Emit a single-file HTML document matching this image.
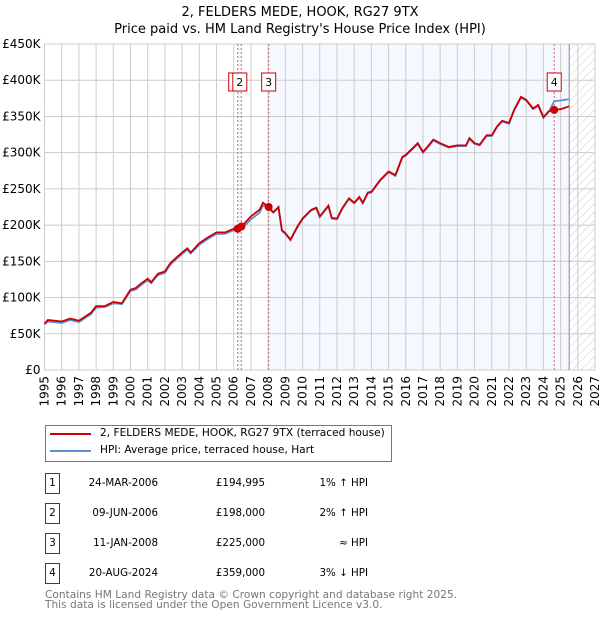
<!DOCTYPE html>
<html><head><meta charset="utf-8"><style>
body{margin:0;background:#fff;font-family:"DejaVu Sans","Liberation Sans",sans-serif;}
#wrap{position:relative;width:600px;height:620px;overflow:hidden}
.t{position:absolute;font-size:12px;color:#000;white-space:nowrap}
</style></head><body><div id="wrap">
<svg id="chart" width="600" height="420" style="position:absolute;left:0;top:0" font-family="DejaVu Sans, Liberation Sans, sans-serif">
<defs><pattern id="hatch" width="6" height="6" patternUnits="userSpaceOnUse" patternTransform="rotate(45)"><line x1="0" y1="0" x2="0" y2="6" stroke="#ccc" stroke-width="1"/></pattern></defs>
<text x="300" y="16" text-anchor="middle" font-size="13">2, FELDERS MEDE, HOOK, RG27 9TX</text>
<text x="300" y="33" text-anchor="middle" font-size="13">Price paid vs. HM Land Registry's House Price Index (HPI)</text>
<g id="g"></g>
</svg>
<div style="position:absolute;left:45px;top:425px;width:345px;height:35px;border:1px solid #777"></div>
<div style="position:absolute;left:50px;top:433px;width:41px;height:2px;background:#cc0000"></div>
<div style="position:absolute;left:50px;top:450px;width:41px;height:2px;background:#5b8fd6"></div>
<div class="t" style="left:100px;top:427px;font-size:10.6px">2, FELDERS MEDE, HOOK, RG27 9TX (terraced house)</div>
<div class="t" style="left:100px;top:444px;font-size:10.6px">HPI: Average price, terraced house, Hart</div>
<div id="tbl"></div>
<div class="t" style="left:45px;top:590px;color:#777;line-height:10px;font-size:10.6px">Contains HM Land Registry data © Crown copyright and database right 2025.<br>This data is licensed under the Open Government Licence v3.0.</div>
</div>
<script>
const years=[1995,1995.2,1996,1996.5,1997,1997.7,1998,1998.5,1999,1999.5,2000,2000.3,2000.6,2001,2001.2,2001.6,2002,2002.3,2002.7,2003,2003.3,2003.5,2004,2004.5,2005,2005.5,2006,2006.45,2007,2007.5,2007.7,2008,2008.3,2008.6,2008.8,2009,2009.3,2009.7,2010,2010.5,2010.8,2011,2011.5,2011.7,2012,2012.3,2012.7,2013,2013.3,2013.5,2013.8,2014,2014.5,2015,2015.4,2015.8,2016,2016.4,2016.7,2017,2017.3,2017.6,2018,2018.5,2019,2019.5,2019.7,2020,2020.3,2020.7,2021,2021.3,2021.6,2022,2022.3,2022.7,2023,2023.4,2023.7,2024,2024.3,2024.63,2025,2025.5];
const priceK=[64,69,67,71,68,79,88,88,94,92,111,113,119,126,121,133,136,147,156,162,168,162,175,183,190,190,195,198,212,221,231,225,218,225,193,189,180,198,209,221,224,212,227,210,209,223,237,231,239,231,245,246,262,274,269,294,297,306,313,301,309,318,313,308,310,310,320,313,311,324,324,336,344,341,359,377,373,361,366,349,357,359,360,364];
const hpiK=[63,67,65,69,66,77,86,87,92,91,109,111,117,124,120,131,134,145,154,160,166,161,173,181,188,188,193,194,208,217,227,224,217,224,192,188,179,197,208,220,223,211,226,209,208,222,236,230,238,230,244,245,261,273,268,293,296,305,312,300,308,317,312,307,309,309,319,312,310,323,323,335,343,340,358,376,372,360,365,348,356,371,372,374];
const yTicks=[0,50,100,150,200,250,300,350,400,450];
const xTicks=[1995,1996,1997,1998,1999,2000,2001,2002,2003,2004,2005,2006,2007,2008,2009,2010,2011,2012,2013,2014,2015,2016,2017,2018,2019,2020,2021,2022,2023,2024,2025,2026,2027];
const saleYears=[2006.23,2006.44,2008.03,2024.63];
const saleK=[194.995,198,225,359];
const saleLabels=["1","2","3","4"];
const saleDates=["24-MAR-2006","09-JUN-2006","11-JAN-2008","20-AUG-2024"];
const salePrices=["£194,995","£198,000","£225,000","£359,000"];
const saleRel=["1% ↑ HPI","2% ↑ HPI","≈ HPI","3% ↓ HPI"];
const dataEnd=2025.5;
const L=44.5,R=595,T=44,B=370;
const X=v=>L+(v-1995)*(R-L)/32, Y=v=>B-v*(B-T)/450;
const NS="http://www.w3.org/2000/svg", g=document.getElementById('g');
function mk(tag,at,name){const e=document.createElementNS(NS,tag);for(const k in at)e.setAttribute(k,at[k]);


g.appendChild(e);return e;}
mk('rect',{x:X(saleYears[0]),y:T,width:X(saleYears[1])-X(saleYears[0]),height:B-T,fill:'#f3f6fd'},'shade-sale-1-2');
mk('rect',{x:X(saleYears[2]),y:T,width:X(dataEnd)-X(saleYears[2]),height:B-T,fill:'#f5f8fe'},'shade-after-sale-3');
mk('rect',{x:X(dataEnd),y:T,width:R-X(dataEnd),height:B-T,fill:'url(#hatch)'},'future-hatch');
yTicks.forEach(v=>{mk('line',{x1:L,x2:R,y1:Y(v),y2:Y(v),stroke:'#ccc'},'y-gridline');
const t=mk('text',{x:L-4,y:Y(v)+4,'text-anchor':'end','font-size':12},'y-tick-label');t.textContent='£'+(v?v+'K':'0');});
xTicks.forEach(v=>{mk('line',{x1:X(v),x2:X(v),y1:T,y2:B,stroke:'#ccc'},'x-gridline');
const t=mk('text',{x:0,y:0,'text-anchor':'end','font-size':12,transform:`translate(${X(v)+4},${B+6}) rotate(-90)`},'x-tick-label');t.textContent=v;});
mk('rect',{x:L,y:T,width:R-L,height:B-T,fill:'none',stroke:'#ccc'},'plot-border');
mk('line',{x1:X(dataEnd),x2:X(dataEnd),y1:T,y2:B,stroke:'#888'},'data-end-line');
saleYears.forEach((s,i)=>{mk('line',{x1:X(s),x2:X(s),y1:T,y2:B,stroke:'#e06060','stroke-dasharray':'2,2'},'sale-line-'+(i+1));});
const pts=a=>years.map((y,i)=>X(y).toFixed(1)+','+Y(a[i]).toFixed(1)).join(' ');
mk('polyline',{points:pts(hpiK),fill:'none',stroke:'#5b8fd6','stroke-width':1.8},'hpi-line');
mk('polyline',{points:pts(priceK),fill:'none',stroke:'#cc0000','stroke-width':1.8},'price-line');
saleYears.forEach((s,i)=>{mk('circle',{cx:X(s),cy:Y(saleK[i]),r:4,fill:'#cc0000'},'sale-marker-'+(i+1));});
[0,1,2,3].forEach(i=>{const cx=X(saleYears[i])+(i==0?-2:(i==1?-1.5:0));
mk('rect',{x:cx-7,y:73,width:14,height:18,fill:'#fff',stroke:'#cc0000'},'sale-label-box-'+(i+1));
const t=mk('text',{x:cx,y:86,'text-anchor':'middle','font-size':11},'sale-label-'+(i+1));t.textContent=saleLabels[i];});
const tbl=document.getElementById('tbl');
saleLabels.forEach((lab,i)=>{const top=473+i*30;
const b=document.createElement('div');b.className='t';b.style.cssText=`left:45px;top:${top}px;width:13px;height:19px;border:1px solid #cc0000;text-align:center;line-height:19px;font-size:10.5px`;b.textContent=lab;

tbl.appendChild(b);
[[saleDates[i],158,'sale-date'],[salePrices[i],265,'sale-price'],[saleRel[i],368,'sale-hpi-relation']].forEach(c=>{
const d=document.createElement('div');d.className='t';d.style.cssText=`right:${600-c[1]}px;top:${top+4}px;font-size:10.3px`;d.textContent=c[0];

tbl.appendChild(d);});});
</script></body></html>
